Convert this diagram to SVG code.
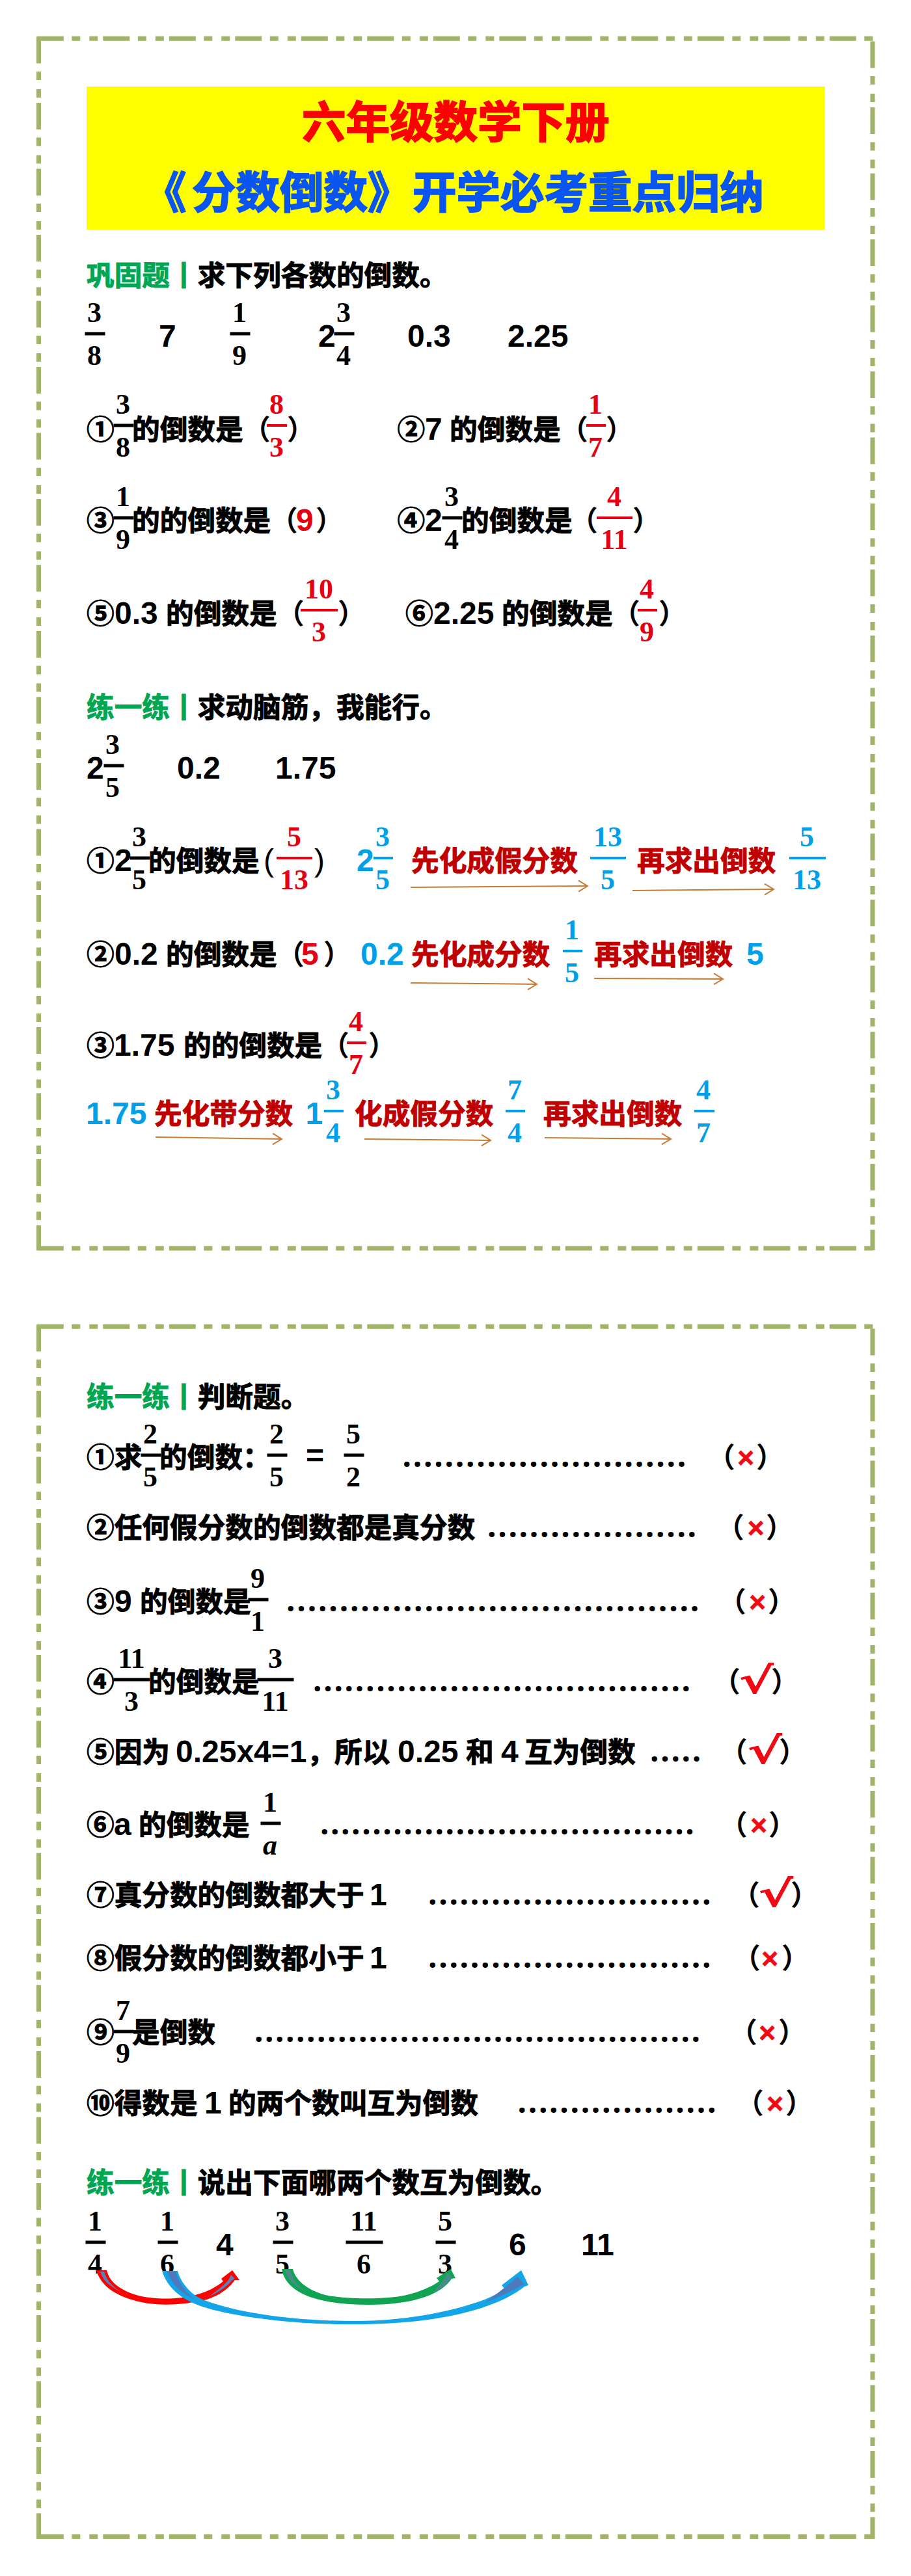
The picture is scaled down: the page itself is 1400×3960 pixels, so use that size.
<svg xmlns="http://www.w3.org/2000/svg" width="1400" height="3960" viewBox="0 0 1400 3960">
<style>
text{white-space:pre}
.c{font:700 42.67px "Noto Sans CJK SC",sans-serif;stroke-width:1}
.n{font:700 48px "Liberation Sans",sans-serif}
.q{font:400 48px "Liberation Sans",sans-serif;fill:#000}
.f{font:700 44px "Liberation Serif",serif;text-anchor:middle}
.i{font:italic 700 44px "Liberation Serif",serif;text-anchor:middle}
.d{font:700 48px "Noto Sans",sans-serif;letter-spacing:2.7px}
.p{font:700 42.67px "Noto Sans CJK SC",sans-serif;fill:#000}
.x{font:700 44px "Liberation Sans",sans-serif;text-anchor:middle;fill:#f00a14;stroke:#f00a14;stroke-width:.8}
.v{font:700 56px "DejaVu Sans",sans-serif;text-anchor:middle;fill:#f00a14}
.t{font:700 67.5px "Noto Sans CJK SC",sans-serif;stroke-width:2}
.k{fill:#000;stroke:#000}
.r{fill:#e60012;stroke:none}
.rc{fill:#c00000;stroke:#c00000}
.b{fill:#00a0e9;stroke:none}
.g{fill:#00a651;stroke:#00a651}
.f.k,.n.k,.d.k,.i.k{stroke:none}
.fr{stroke:#a1b46a;stroke-width:7;stroke-dasharray:41 12.5 13 14 13 8;fill:none}
.ar{fill:none;stroke:#c87b37;stroke-width:2;marker-end:url(#oh)}
</style>
<defs>
<marker id="oh" markerUnits="userSpaceOnUse" markerWidth="20" markerHeight="24" refX="16" refY="10" orient="auto"><path d="M2,1.5 L16,10 L2,18.5" fill="none" stroke="#c87b37" stroke-width="2"/></marker>
</defs>
<rect width="1400" height="3960" fill="#fff"/>
<g id="frames">
<path class="fr" d="M56.8,59.3H1344"/><path class="fr" d="M59.5,56.5V1922"/><path class="fr" d="M1341,63.5V1922"/><path class="fr" d="M56.8,1919H1344"/>
<path class="fr" d="M56.8,2039.3H1344"/><path class="fr" d="M59.5,2036.5V3903"/><path class="fr" d="M1341,2042.5V3903"/><path class="fr" d="M56.8,3899.5H1344"/>
</g>
<g id="title">
<rect x="133" y="133" width="1134.5" height="220" fill="#ffff00"/>
<text class="t" x="464" y="212" fill="#ff0000" stroke="#ff0000">六年级数学下册</text>
<text class="t" x="219" y="320" fill="#0a55f0" stroke="#0a55f0">《</text>
<text class="t" x="295" y="320" fill="#0a55f0" stroke="#0a55f0">分数倒数》</text>
<text class="t" x="634" y="320" fill="#0a55f0" stroke="#0a55f0">开学必考重点归纳</text>
</g>
<g id="section-1">
<g id="s1-head"><text class="c g" x="133" y="439">巩固题丨</text><text class="c k" x="303.7" y="439">求下列各数的倒数。</text></g>
<g id="s1-list">
<rect class="k" x="131" y="511" width="30" height="4"/><text class="f k" x="145" y="495">3</text><text class="f k" x="145" y="561">8</text>
<text class="n k" x="244" y="533">7</text>
<rect class="k" x="354" y="511" width="30" height="4"/><text class="f k" x="368" y="495">1</text><text class="f k" x="368" y="561">9</text>
<text class="n k" x="489" y="533">2</text>
<rect class="k" x="514" y="511" width="30" height="4"/><text class="f k" x="528" y="495">3</text><text class="f k" x="528" y="561">4</text>
<text class="n k" x="626" y="533">0.3</text><text class="n k" x="780" y="533">2.25</text>
</g>
<g id="s1-q1">
<text class="c k" x="133" y="676">①</text>
<rect class="k" x="175" y="652" width="30" height="4"/><text class="f k" x="189" y="636">3</text><text class="f k" x="189" y="702">8</text>
<text class="c k" x="203" y="676">的倒数是</text><text class="p" x="373" y="676">（</text>
<rect class="r" x="410" y="652" width="31" height="4"/><text class="f r" x="425" y="636">8</text><text class="f r" x="425" y="702">3</text>
<text class="p" x="441" y="676">）</text>
</g>
<g id="s1-q2">
<text class="c k" x="610.5" y="676">②</text><text class="n k" x="653" y="676">7</text><text class="c k" x="691" y="676">的倒数是</text><text class="p" x="861" y="676">（</text>
<rect class="r" x="901" y="652" width="30" height="4"/><text class="f r" x="915" y="636">1</text><text class="f r" x="915" y="702">7</text>
<text class="p" x="931" y="676">）</text>
</g>
<g id="s1-q3">
<text class="c k" x="133" y="816">③</text>
<rect class="k" x="175" y="794" width="30" height="4"/><text class="f k" x="189" y="778">1</text><text class="f k" x="189" y="844">9</text>
<text class="c k" x="203" y="816">的的倒数是</text><text class="p" x="415" y="816">（</text>
<text class="n r" x="455" y="816">9</text><text class="p" x="485" y="816">）</text>
</g>
<g id="s1-q4">
<text class="c k" x="610.5" y="816">④</text><text class="n k" x="653" y="816">2</text>
<rect class="k" x="680" y="794" width="30" height="4"/><text class="f k" x="694" y="778">3</text><text class="f k" x="694" y="844">4</text>
<text class="c k" x="709" y="816">的倒数是</text><text class="p" x="876" y="816">（</text>
<rect class="r" x="917" y="794" width="55" height="4"/><text class="f r" x="944" y="778">4</text><text class="f r" x="944" y="844">11</text>
<text class="p" x="972" y="816">）</text>
</g>
<g id="s1-q5">
<text class="c k" x="133" y="959">⑤</text><text class="n k" x="176" y="959">0.3</text><text class="c k" x="255" y="959">的倒数是</text><text class="p" x="425" y="959">（</text>
<rect class="r" x="462" y="936" width="57" height="4"/><text class="f r" x="490" y="920">10</text><text class="f r" x="490" y="986">3</text>
<text class="p" x="519" y="959">）</text>
</g>
<g id="s1-q6">
<text class="c k" x="623" y="959">⑥</text><text class="n k" x="666" y="959">2.25</text><text class="c k" x="771" y="959">的倒数是</text><text class="p" x="941" y="959">（</text>
<rect class="r" x="980" y="936" width="30" height="4"/><text class="f r" x="994" y="920">4</text><text class="f r" x="994" y="986">9</text>
<text class="p" x="1012" y="959">）</text>
</g>
</g>
<g id="section-2">
<g id="s2-head"><text class="c g" x="133" y="1103">练一练丨</text><text class="c k" x="303.7" y="1103">求动脑筋，我能行。</text></g>
<g id="s2-list">
<text class="n k" x="133" y="1197">2</text>
<rect class="k" x="160" y="1175" width="30" height="4"/><text class="f k" x="173" y="1159">3</text><text class="f k" x="173" y="1225">5</text>
<text class="n k" x="272" y="1197">0.2</text><text class="n k" x="423" y="1197">1.75</text>
</g>
<g id="s2-q1">
<text class="c k" x="133" y="1339">①</text><text class="n k" x="176" y="1339">2</text>
<rect class="k" x="200" y="1317" width="30" height="4"/><text class="f k" x="214" y="1301">3</text><text class="f k" x="214" y="1367">5</text>
<text class="c k" x="228" y="1339">的倒数是</text><text class="q" x="405" y="1339">(</text>
<rect class="r" x="425" y="1317" width="55" height="4"/><text class="f r" x="452" y="1301">5</text><text class="f r" x="452" y="1367">13</text>
<text class="q" x="483" y="1339">)</text>
<text class="n b" x="548" y="1339">2</text>
<rect class="b" x="574" y="1317" width="30" height="4"/><text class="f b" x="588" y="1301">3</text><text class="f b" x="588" y="1367">5</text>
<text class="c rc" x="632" y="1339">先化成假分数</text>
<rect class="b" x="907" y="1317" width="55" height="4"/><text class="f b" x="934" y="1301">13</text><text class="f b" x="934" y="1367">5</text>
<text class="c rc" x="979" y="1339">再求出倒数</text>
<rect class="b" x="1213" y="1317" width="56" height="4"/><text class="f b" x="1240" y="1301">5</text><text class="f b" x="1240" y="1367">13</text>
</g>
<g id="s2-q2">
<text class="c k" x="133" y="1483">②</text><text class="n k" x="176" y="1483">0.2</text><text class="c k" x="255" y="1483">的倒数是</text><text class="p" x="425" y="1483">（</text>
<text class="n r" x="463" y="1483">5</text><text class="p" x="497" y="1483">）</text>
<text class="n b" x="554" y="1483">0.2</text><text class="c rc" x="632" y="1483">先化成分数</text>
<rect class="b" x="865" y="1460" width="30" height="4"/><text class="f b" x="879" y="1444">1</text><text class="f b" x="879" y="1510">5</text>
<text class="c rc" x="913" y="1483">再求出倒数</text><text class="n b" x="1147" y="1483">5</text>
</g>
<g id="s2-q3">
<text class="c k" x="133" y="1623">③</text><text class="n k" x="175" y="1623">1.75</text><text class="c k" x="282" y="1623">的的倒数是</text><text class="p" x="494" y="1623">（</text>
<rect class="r" x="533" y="1601" width="30" height="4"/><text class="f r" x="547" y="1585">4</text><text class="f r" x="547" y="1651">7</text>
<text class="p" x="566" y="1623">）</text>
</g>
<g id="s2-q3-steps">
<text class="n b" x="132" y="1728">1.75</text><text class="c rc" x="237" y="1728">先化带分数</text>
<text class="n b" x="469.5" y="1728">1</text>
<rect class="b" x="498" y="1706" width="30" height="4"/><text class="f b" x="512" y="1690">3</text><text class="f b" x="512" y="1756">4</text>
<text class="c rc" x="545" y="1728">化成假分数</text>
<rect class="b" x="777" y="1706" width="30" height="4"/><text class="f b" x="791" y="1690">7</text><text class="f b" x="791" y="1756">4</text>
<text class="c rc" x="835" y="1728">再求出倒数</text>
<rect class="b" x="1067" y="1706" width="31" height="4"/><text class="f b" x="1081" y="1690">4</text><text class="f b" x="1081" y="1756">7</text>
</g>
</g>
<g id="section-3">
<g id="s3-head"><text class="c g" x="133" y="2163">练一练丨</text><text class="c k" x="303.7" y="2163">判断题。</text></g>
<g id="j1">
<text class="c k" x="133" y="2256">①求</text>
<rect class="k" x="217" y="2235" width="30" height="4"/><text class="f k" x="231" y="2219">2</text><text class="f k" x="231" y="2285">5</text>
<text class="c k" x="245" y="2256">的倒数：</text>
<rect class="k" x="411" y="2235" width="30" height="4"/><text class="f k" x="425" y="2219">2</text><text class="f k" x="425" y="2285">5</text>
<text class="n k" x="470" y="2254">=</text>
<rect class="k" x="529" y="2235" width="30" height="4"/><text class="f k" x="543" y="2219">5</text><text class="f k" x="543" y="2285">2</text>
<text class="d k" x="618.5" y="2255" style="letter-spacing:2.75px">...........................</text>
<text class="p" x="1087" y="2256">（</text><text class="x" x="1146" y="2256">×</text><text class="p" x="1162" y="2256">）</text>
</g>
<g id="j2">
<text class="c k" x="133" y="2364">②任何假分数的倒数都是真分数</text>
<text class="d k" x="749" y="2363">....................</text>
<text class="p" x="1101" y="2364">（</text><text class="x" x="1161.5" y="2364">×</text><text class="p" x="1177" y="2364">）</text>
</g>
<g id="j3">
<text class="c k" x="133" y="2478">③</text><text class="n k" x="176" y="2478">9</text><text class="c k" x="215" y="2478">的倒数是</text>
<rect class="k" x="382" y="2457" width="30" height="4"/><text class="f k" x="396" y="2441">9</text><text class="f k" x="396" y="2507">1</text>
<text class="d k" x="440" y="2477" style="letter-spacing:2.85px">.......................................</text>
<text class="p" x="1104" y="2478">（</text><text class="x" x="1164" y="2478">×</text><text class="p" x="1180" y="2478">）</text>
</g>
<g id="j4">
<text class="c k" x="133" y="2601">④</text>
<rect class="k" x="175" y="2580" width="55" height="4"/><text class="f k" x="202" y="2564">11</text><text class="f k" x="202" y="2630">3</text>
<text class="c k" x="228" y="2601">的倒数是</text>
<rect class="k" x="396" y="2580" width="55" height="4"/><text class="f k" x="423" y="2564">3</text><text class="f k" x="423" y="2630">11</text>
<text class="d k" x="481" y="2600">....................................</text>
<text class="p" x="1095" y="2601">（</text><text class="v" transform="translate(1162,2603) scale(1.45,1)">√</text><text class="p" x="1185" y="2601">）</text>
</g>
<g id="j5">
<text class="c k" x="133" y="2709">⑤因为</text><text class="n k" x="270" y="2709">0.25x4=1</text><text class="c k" x="472" y="2709">，</text><text class="c k" x="514" y="2709">所以</text><text class="n k" x="611" y="2709">0.25</text><text class="c k" x="716" y="2709">和</text><text class="n k" x="770" y="2709">4</text><text class="c k" x="806" y="2709">互为倒数</text>
<text class="d k" x="999" y="2708">.....</text>
<text class="p" x="1106" y="2709">（</text><text class="v" transform="translate(1175,2711) scale(1.45,1)">√</text><text class="p" x="1197" y="2709">）</text>
</g>
<g id="j6">
<text class="c k" x="133" y="2821">⑥</text><text class="n k" x="175" y="2821">a</text><text class="c k" x="213" y="2821">的倒数是</text>
<rect class="k" x="401" y="2801" width="30" height="4"/><text class="f k" x="415" y="2785">1</text><text class="i k" x="415" y="2851">a</text>
<text class="d k" x="492" y="2820" style="letter-spacing:2.55px">....................................</text>
<text class="p" x="1106" y="2821">（</text><text class="x" x="1166" y="2821">×</text><text class="p" x="1181" y="2821">）</text>
</g>
<g id="j7">
<text class="c k" x="133" y="2929">⑦真分数的倒数都大于</text><text class="n k" x="568" y="2929">1</text>
<text class="d k" x="658" y="2928">...........................</text>
<text class="p" x="1125" y="2929">（</text><text class="v" transform="translate(1192,2931) scale(1.45,1)">√</text><text class="p" x="1215" y="2929">）</text>
</g>
<g id="j8">
<text class="c k" x="133" y="3026">⑧假分数的倒数都小于</text><text class="n k" x="568" y="3026">1</text>
<text class="d k" x="658" y="3025">...........................</text>
<text class="p" x="1126" y="3026">（</text><text class="x" x="1183" y="3026">×</text><text class="p" x="1201" y="3026">）</text>
</g>
<g id="j9">
<text class="c k" x="133" y="3140">⑨</text>
<rect class="k" x="175" y="3121" width="30" height="4"/><text class="f k" x="189" y="3105">7</text><text class="f k" x="189" y="3171">9</text>
<text class="c k" x="203" y="3140">是倒数</text>
<text class="d k" x="391" y="3139" style="letter-spacing:2.5px">...........................................</text>
<text class="p" x="1121" y="3140">（</text><text class="x" x="1179" y="3140">×</text><text class="p" x="1196" y="3140">）</text>
</g>
<g id="j10">
<text class="c k" x="133" y="3249">⑩得数是</text><text class="n k" x="314" y="3249">1</text><text class="c k" x="351" y="3249">的两个数叫互为倒数</text>
<text class="d k" x="795.5" y="3248">...................</text>
<text class="p" x="1131" y="3249">（</text><text class="x" x="1191" y="3249">×</text><text class="p" x="1207" y="3249">）</text>
</g>
<g id="s3-head2"><text class="c g" x="133" y="3371">练一练丨</text><text class="c k" x="303.7" y="3371">说出下面哪两个数互为倒数。</text></g>
<g id="s3-list">
<rect class="k" x="132" y="3445" width="30" height="4"/><text class="f k" x="146" y="3429">1</text><text class="f k" x="146" y="3495">4</text>
<rect class="k" x="243" y="3445" width="30" height="4"/><text class="f k" x="257" y="3429">1</text><text class="f k" x="257" y="3495">6</text>
<text class="n k" x="332" y="3467">4</text>
<rect class="k" x="420" y="3445" width="30" height="4"/><text class="f k" x="434" y="3429">3</text><text class="f k" x="434" y="3495">5</text>
<rect class="k" x="532" y="3445" width="56" height="4"/><text class="f k" x="559" y="3429">11</text><text class="f k" x="559" y="3495">6</text>
<rect class="k" x="670" y="3445" width="30" height="4"/><text class="f k" x="684" y="3429">5</text><text class="f k" x="684" y="3495">3</text>
<text class="n k" x="782" y="3467">6</text><text class="n k" x="893" y="3467">11</text>
</g>
</g>
<g id="connectors">
<path class="ar" d="M631,1364L903,1362"/><path class="ar" d="M972,1369L1189,1367"/>
<path class="ar" d="M631,1511L825,1513"/><path class="ar" d="M913,1504L1111,1505"/>
<path class="ar" d="M239,1748L433,1751"/><path class="ar" d="M560,1751L754,1753"/><path class="ar" d="M837,1749L1031,1751"/>
<g id="arc-red"><path fill="#ff0000" d="M148,3490L164,3490C168,3508 185,3522 217,3530C240,3535 275,3535 300,3528C320,3523 333,3515 343,3507L340,3503L357,3490L368,3505L361,3505C346,3526 320,3537 297,3539C270,3544 240,3544 217,3539C180,3531 155,3515 148,3490Z"/><path fill="#5a80b8" d="M154,3492L160,3492C164,3505 172,3515 186,3523C168,3515 158,3505 154,3492Z"/><path fill="#5a80b8" d="M355,3497L361,3503L356,3506C348,3516 335,3524 322,3530C335,3520 345,3512 351,3505Z"/></g>
<g id="arc-green"><path fill="#0fa451" d="M433,3488L450,3488C453,3503 470,3520 500,3528C525,3534 590,3536 625,3528C645,3523 662,3516 675,3507L671,3502L692.6,3488L700,3502L694,3503C680,3525 640,3543 566,3543C500,3543 440,3530 433,3488Z"/><path fill="#4a8a8a" d="M438,3489L446,3489C450,3505 458,3515 470,3522C452,3515 441,3503 438,3489Z"/><path fill="#4a8a8a" d="M688,3494L694,3500C688,3510 680,3518 665,3524C675,3514 683,3504 688,3494Z"/></g>
<g id="arc-blue"><path fill="#14a5e8" d="M249,3491L273,3491C278,3510 295,3530 317,3537C360,3553 440,3568 545,3568C620,3568 690,3555 745,3535C757,3530 767,3525 775,3518L771,3513L801,3490L812,3513L806,3515C775,3540 700,3573 545,3573C440,3574 340,3558 303,3543C270,3530 255,3510 249,3491Z"/><path fill="#4d79bd" d="M257,3492L270,3492C274,3508 285,3525 300,3535C280,3527 262,3510 257,3492Z"/><path fill="#4d79bd" d="M795,3500L806,3511C790,3520 770,3530 745,3540C765,3525 785,3510 795,3500Z"/></g>
</g>
</svg>
